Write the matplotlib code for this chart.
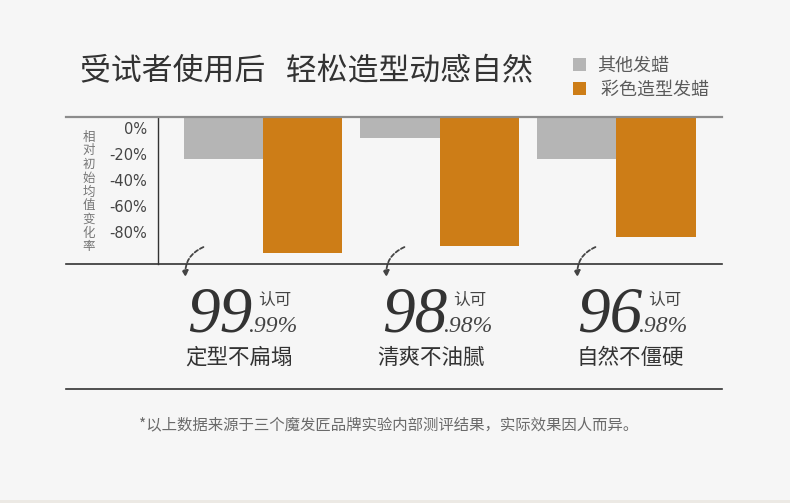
import matplotlib.pyplot as plt
import matplotlib.patches as mpatches
from matplotlib.lines import Line2D
import numpy as np

plt.rcParams['font.family'] = ['Noto Sans CJK SC', 'DejaVu Sans']

# data
groups = ["定型不扁塌", "清爽不油腻", "自然不僵硬"]
other_wax = [-24, -8, -24]       # 其他发蜡
color_wax = [-96, -91, -84]      # 彩色造型发蜡
big_nums = ["99", "98", "96"]
small_nums = [".99%", ".98%", ".98%"]
yticks = [0, -20, -40, -60, -80]
ytick_labels = ["0%", "-20%", "-40%", "-60%", "-80%"]
series_names = ["其他发蜡", "彩色造型发蜡"]

W, H = 790, 503
bg = "#f6f6f6"
gray = "#b5b5b5"
orange = "#cd7d17"


def px(x, y):
    return x / W, 1 - y / H


fig = plt.figure(figsize=(W / 100, H / 100), dpi=100, facecolor=bg)

# chart area between the grey top rule and the dark rule
ax = fig.add_axes([158 / W, 1 - 264 / H, (722 - 158) / W, (264 - 117) / H])
ax.set_facecolor(bg)
y_top = 8.5
ax.set_ylim(-104.6, y_top)
ax.set_xlim(-0.595, 2.60)
x = np.arange(len(groups))
w = 0.45
b1 = ax.bar(x - w, np.array(other_wax) - y_top, bottom=y_top, width=w,
            align='edge', color=gray, label=series_names[0])
b2 = ax.bar(x, np.array(color_wax) - y_top, bottom=y_top, width=w,
            align='edge', color=orange, label=" " + series_names[1])

for s in ["top", "right", "bottom"]:
    ax.spines[s].set_visible(False)
ax.spines["left"].set_color("#333333")
ax.spines["left"].set_linewidth(1)
ax.set_xticks([])
ax.set_yticks(yticks)
ax.set_yticklabels(ytick_labels, fontsize=10.5, color="#444444",
                   family="DejaVu Sans")
ax.tick_params(axis="y", length=0, pad=8)

# horizontal rules
for yy, c, lw in [(117, "#8c8c8c", 1.6), (264, "#333333", 1.2), (389, "#333333", 1.2)]:
    fig.add_artist(Line2D([66 / W, 722 / W], [1 - yy / H, 1 - yy / H],
                          color=c, lw=lw, transform=fig.transFigure))

# title
fig.text(*px(80, 72), "受试者使用后   轻松造型动感自然", fontsize=22.2,
         color="#333333", va="center", ha="left")

# legend
fig.legend(handles=[b1, b2], loc="upper left", bbox_to_anchor=px(564, 48),
           frameon=False, fontsize=13, handlelength=0.72, handleheight=0.72,
           handletextpad=0.6, labelspacing=0.3, borderpad=0, labelcolor="#5a5a5a")

# vertical y label
fig.text(*px(89, 192), "\n".join("相对初始均值变化率"), fontsize=9,
         color="#777777", ha="center", va="center", linespacing=1.07)

# curved dashed arrows
for sx in [206, 407, 598]:
    arr = mpatches.FancyArrowPatch(px(sx, 246), px(sx - 20, 280),
                                   transform=fig.transFigure,
                                   connectionstyle="arc3,rad=0.4",
                                   arrowstyle="-|>", mutation_scale=9,
                                   color="#444444", lw=1.3,
                                   linestyle=(0, (2.2, 1.3)))
    fig.add_artist(arr)

# big percentages and captions
num_left = [187, 382, 577]
cap_center = [239, 431, 630]
for i in range(len(groups)):
    x0 = num_left[i]
    fig.text(*px(x0, 332), big_nums[i], fontsize=47, family="Liberation Serif",
             style="italic", color="#333333", ha="left", va="baseline")
    fig.text(*px(x0 + 61, 332), small_nums[i], fontsize=17,
             family="Liberation Serif", style="italic", color="#444444",
             ha="left", va="baseline")
    fig.text(*px(x0 + 71, 300), "认可", fontsize=12, color="#444444",
             ha="left", va="center")
    fig.text(*px(cap_center[i], 358), groups[i], fontsize=15.5,
             color="#333333", ha="center", va="center")

# footnote
fig.text(*px(389, 425), "*以上数据来源于三个魔发匠品牌实验内部测评结果，实际效果因人而异。",
         fontsize=11.1, color="#6a6a6a", ha="center", va="center")

fig.add_artist(mpatches.Rectangle((0, 0), 1, 3 / H, transform=fig.transFigure,
                                  color="#ece9e4", lw=0))

fig.savefig("out.png", dpi=100, facecolor=bg)
